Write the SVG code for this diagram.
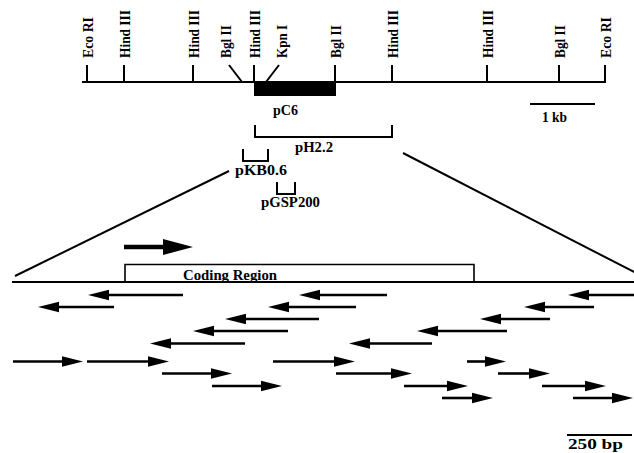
<svg xmlns="http://www.w3.org/2000/svg" width="634" height="453" viewBox="0 0 634 453">
<style>
.lbl{font-family:"Liberation Serif","Times New Roman",serif;font-weight:bold;font-size:14px;fill:#000}
.t{font-family:"Liberation Serif","Times New Roman",serif;font-weight:bold;font-size:14px;fill:#000}
.ln{stroke:#000;stroke-width:2;fill:none}
.a{stroke:#000;stroke-width:2.6;fill:none}
</style>
<defs>
<marker id="ah" markerUnits="userSpaceOnUse" markerWidth="22" markerHeight="12" viewBox="0 -6 22 12" refX="1" refY="0" orient="auto">
<path d="M0,-5.2 L21,0 L0,5.2 z" fill="#000"/>
</marker>
<marker id="ahb" markerUnits="userSpaceOnUse" markerWidth="32" markerHeight="18" viewBox="0 -9 32 18" refX="1" refY="0" orient="auto">
<path d="M0,-8 L30,0 L0,8 z" fill="#000"/>
</marker>
</defs>
<rect width="634" height="453" fill="#fff"/>

<g id="restriction-map">
<line class="ln" x1="82" y1="82" x2="606" y2="82"/>
<rect x="254" y="82" width="82" height="14" fill="#000"/>
<g class="ln">
<line x1="87" y1="65" x2="87" y2="82"/>
<line x1="124" y1="65" x2="124" y2="82"/>
<line x1="193" y1="65" x2="193" y2="82"/>
<line x1="229" y1="65" x2="242" y2="82"/>
<line x1="254" y1="65" x2="254" y2="82"/>
<line x1="279" y1="65" x2="266" y2="82"/>
<line x1="335" y1="65" x2="335" y2="82"/>
<line x1="392" y1="65" x2="392" y2="82"/>
<line x1="487" y1="65" x2="487" y2="82"/>
<line x1="559" y1="65" x2="559" y2="82"/>
<line x1="605" y1="65" x2="605" y2="82"/>
</g>
<text class="lbl" transform="translate(93,58) rotate(-90)" textLength="41" lengthAdjust="spacingAndGlyphs">Eco RI</text>
<text class="lbl" transform="translate(130,58) rotate(-90)" textLength="48" lengthAdjust="spacingAndGlyphs">Hind III</text>
<text class="lbl" transform="translate(199,58) rotate(-90)" textLength="48" lengthAdjust="spacingAndGlyphs">Hind III</text>
<text class="lbl" transform="translate(231,58) rotate(-90)" textLength="33" lengthAdjust="spacingAndGlyphs">Bgl II</text>
<text class="lbl" transform="translate(260,58) rotate(-90)" textLength="48" lengthAdjust="spacingAndGlyphs">Hind III</text>
<text class="lbl" transform="translate(287,58) rotate(-90)" textLength="33" lengthAdjust="spacingAndGlyphs">Kpn I</text>
<text class="lbl" transform="translate(341,58) rotate(-90)" textLength="33" lengthAdjust="spacingAndGlyphs">Bgl II</text>
<text class="lbl" transform="translate(398,58) rotate(-90)" textLength="48" lengthAdjust="spacingAndGlyphs">Hind III</text>
<text class="lbl" transform="translate(493,58) rotate(-90)" textLength="48" lengthAdjust="spacingAndGlyphs">Hind III</text>
<text class="lbl" transform="translate(565,58) rotate(-90)" textLength="33" lengthAdjust="spacingAndGlyphs">Bgl II</text>
<text class="lbl" transform="translate(611,58) rotate(-90)" textLength="41" lengthAdjust="spacingAndGlyphs">Eco RI</text>
</g>

<g id="scale-1kb">
<line class="ln" x1="530" y1="104" x2="595" y2="104"/>
<text class="t" x="542" y="122" textLength="25" lengthAdjust="spacingAndGlyphs">1 kb</text>
</g>

<g id="pC6">
<text class="t" x="273" y="115" textLength="25" lengthAdjust="spacingAndGlyphs">pC6</text>
</g>
<g id="pH2.2">
<path class="ln" d="M255,125 V137 H392 V125"/>
<text class="t" x="295" y="152" textLength="38" lengthAdjust="spacingAndGlyphs">pH2.2</text>
</g>
<g id="pKB0.6">
<path class="ln" d="M243,149 V161 H268 V149"/>
<text class="t" x="235" y="175" textLength="52" lengthAdjust="spacingAndGlyphs">pKB0.6</text>
</g>
<g id="pGSP200">
<path class="ln" d="M277,182 V194 H295 V182"/>
<text class="t" x="261" y="207" textLength="59" lengthAdjust="spacingAndGlyphs">pGSP200</text>
</g>

<g id="expansion">
<line class="ln" x1="15" y1="276" x2="229" y2="171"/>
<line class="ln" x1="403" y1="153" x2="636" y2="273"/>
</g>

<g id="gene">
<line class="ln" x1="12" y1="282" x2="634" y2="282"/>
<path d="M125,282 V264.5 H474 V282" fill="none" stroke="#000" stroke-width="1.6"/>
<text class="t" x="183" y="280" textLength="94" lengthAdjust="spacingAndGlyphs">Coding Region</text>
<line x1="124" y1="247" x2="164" y2="247" stroke="#000" stroke-width="4.5" marker-end="url(#ahb)"/>
</g>

<g id="connectors">
<line class="a" x1="183" y1="295" x2="108" y2="295" marker-end="url(#ah)"/>
<line class="a" x1="387" y1="295" x2="319" y2="295" marker-end="url(#ah)"/>
<line class="a" x1="640" y1="295" x2="588" y2="295" marker-end="url(#ah)"/>
<line class="a" x1="114" y1="307" x2="58" y2="307" marker-end="url(#ah)"/>
<line class="a" x1="356" y1="307" x2="288" y2="307" marker-end="url(#ah)"/>
<line class="a" x1="594" y1="307" x2="544" y2="307" marker-end="url(#ah)"/>
<line class="a" x1="319" y1="319" x2="245" y2="319" marker-end="url(#ah)"/>
<line class="a" x1="550" y1="319" x2="500" y2="319" marker-end="url(#ah)"/>
<line class="a" x1="288" y1="331" x2="213" y2="331" marker-end="url(#ah)"/>
<line class="a" x1="507" y1="331" x2="437" y2="331" marker-end="url(#ah)"/>
<line class="a" x1="245" y1="343.5" x2="170" y2="343.5" marker-end="url(#ah)"/>
<line class="a" x1="432" y1="343.5" x2="369" y2="343.5" marker-end="url(#ah)"/>
<line class="a" x1="13" y1="361.5" x2="63" y2="361.5" marker-end="url(#ah)"/>
<line class="a" x1="87" y1="361.5" x2="149" y2="361.5" marker-end="url(#ah)"/>
<line class="a" x1="273" y1="361.5" x2="335" y2="361.5" marker-end="url(#ah)"/>
<line class="a" x1="467" y1="361.5" x2="486" y2="361.5" marker-end="url(#ah)"/>
<line class="a" x1="162" y1="373.5" x2="212" y2="373.5" marker-end="url(#ah)"/>
<line class="a" x1="336" y1="373.5" x2="392" y2="373.5" marker-end="url(#ah)"/>
<line class="a" x1="498" y1="373.5" x2="530" y2="373.5" marker-end="url(#ah)"/>
<line class="a" x1="212" y1="386" x2="262" y2="386" marker-end="url(#ah)"/>
<line class="a" x1="404" y1="386" x2="448" y2="386" marker-end="url(#ah)"/>
<line class="a" x1="542" y1="386" x2="586" y2="386" marker-end="url(#ah)"/>
<line class="a" x1="442" y1="398" x2="473" y2="398" marker-end="url(#ah)"/>
<line class="a" x1="573" y1="398" x2="613" y2="398" marker-end="url(#ah)"/>
</g>

<g id="scale-250bp">
<line class="ln" x1="567" y1="435" x2="632" y2="435"/>
<text class="t" x="568" y="449" textLength="55" lengthAdjust="spacingAndGlyphs">250 bp</text>
</g>
</svg>
